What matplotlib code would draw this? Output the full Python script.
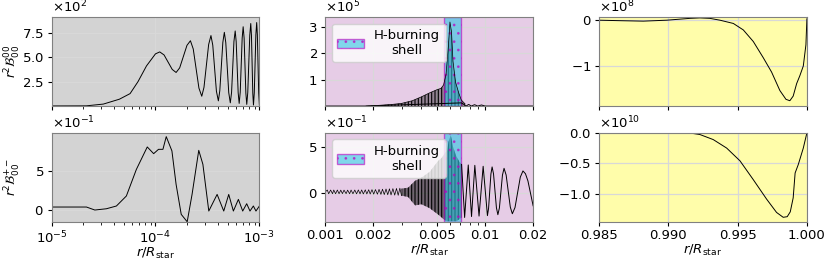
import numpy as np
import matplotlib
matplotlib.use("Agg")
import matplotlib.pyplot as plt
from matplotlib.ticker import FixedLocator, FixedFormatter, NullFormatter, ScalarFormatter

# ---- core region (log r from 1e-5 to 1e-3) ----
core_r = [1.0e-5, 2.16e-5, 3.15e-5, 4.5e-5, 5.7e-5, 6.8e-5, 8.2e-5, 1.0e-4, 1.1e-4,
          1.21e-4, 1.45e-4, 1.58e-4, 1.71e-4, 2.01e-4, 2.17e-4, 2.31e-4, 2.62e-4,
          2.79e-4, 2.93e-4, 3.25e-4, 3.42e-4, 3.56e-4, 3.86e-4, 4.03e-4, 4.16e-4,
          4.45e-4, 4.6e-4, 4.75e-4, 5.07e-4, 5.25e-4, 5.40e-4, 5.69e-4, 5.85e-4,
          5.98e-4, 6.25e-4, 6.39e-4, 6.54e-4, 6.83e-4, 6.98e-4, 7.13e-4, 7.41e-4,
          7.56e-4, 7.73e-4, 8.08e-4, 8.26e-4, 8.39e-4, 8.64e-4, 8.77e-4, 8.93e-4,
          9.25e-4, 9.42e-4, 9.56e-4, 9.85e-4, 1.0e-3]
core_b00 = np.array([0.01, 0.02, 0.2, 0.7, 1.27, 2.5, 4.1, 5.33, 5.53, 5.22, 3.74, 3.43,
                     3.9, 6.2, 6.67, 5.83, 1.83, 1.0, 1.91, 6.29, 7.2, 6.22, 1.51, 0.53,
                     1.56, 6.5, 7.53, 6.48, 1.38, 0.33, 1.4, 6.6, 7.67, 6.59, 1.35, 0.27,
                     1.4, 6.95, 8.1, 6.94, 1.32, 0.17, 1.38, 7.22, 8.43, 7.21, 1.32, 0.1,
                     1.34, 7.29, 8.53, 7.29, 1.34, 0.1]) * 1e2

core_r_pm = [1.0e-5, 2.17e-5, 2.61e-5, 3.37e-5, 4.21e-5, 5.25e-5, 6.55e-5, 8.34e-5,
             9.61e-5, 1.07e-4, 1.18e-4, 1.27e-4, 1.44e-4, 1.58e-4, 1.77e-4, 2.02e-4,
             2.25e-4, 2.61e-4, 2.86e-4, 3.26e-4, 3.92e-4, 4.54e-4, 5.07e-4, 5.62e-4,
             6.28e-4, 6.91e-4, 7.55e-4, 8.12e-4, 8.75e-4, 9.27e-4, 1.0e-3]
core_bpm = np.array([0.43, 0.43, 0.05, 0.21, 0.56, 1.83, 5.2, 8.05, 7.2, 7.75, 7.75, 9.36,
                     7.55, 3.3, -0.5, -1.44, 2.03, 7.62, 5.85, -0.08, 2.03, -0.08, 2.03,
                     -0.08, 1.4, -0.08, 0.85, -0.08, 0.56, -0.08, 0.56]) * 1e-1

# ---- shell region (log r from 1e-3 to 2e-2) ----
shell_lo, shell_hi = 0.0055, 0.0071

shell_b00_x = [0.001, 0.0018, 0.0071, 0.0073, 0.0076, 0.0079, 0.0082, 0.0086, 0.0090,
               0.0095, 0.0100, 0.0200]
shell_b00_y = np.array([0.0, 0.0, 0.12, 0.08, 0.0, 0.06, 0.0, 0.05, 0.0, 0.04, 0.0,
                        0.0]) * 1e5
shell_b00_env_x = [0.0018, 0.0022, 0.0026, 0.0030, 0.0035, 0.0040, 0.0045, 0.0050,
                   0.0053, 0.0055, 0.0057, 0.0059, 0.00603, 0.00617, 0.0063, 0.00654,
                   0.00686, 0.0071, 0.0075]
shell_b00_env = np.array([0.0, 0.03, 0.06, 0.1, 0.2, 0.35, 0.5, 0.62, 0.67, 0.8, 1.2,
                          2.3, 3.19, 2.8, 1.7, 0.9, 0.48, 0.23, 0.08]) * 1e5

shell_wig_x = [0.00100, 0.00103, 0.00105, 0.00108, 0.00111, 0.00113, 0.00116, 0.00119,
               0.00122, 0.00125, 0.00128, 0.00131, 0.00135, 0.00138, 0.00142, 0.00145,
               0.00149, 0.00153, 0.00157, 0.00161, 0.00165, 0.00169, 0.00173, 0.00178,
               0.00182, 0.00187, 0.00191, 0.00196, 0.00201, 0.00206, 0.00212, 0.00217,
               0.00223, 0.00228, 0.00234, 0.00240, 0.00246, 0.00252, 0.00258, 0.00265,
               0.00272, 0.00279, 0.00286, 0.00293, 0.00300]
shell_wig_y = np.array([0.15, 0.35, -0.05, 0.35, -0.05, 0.35, -0.05, 0.35, -0.05, 0.34,
                        -0.04, 0.34, -0.04, 0.34, -0.05, 0.35, -0.05, 0.35, -0.06, 0.36,
                        -0.06, 0.36, -0.07, 0.37, -0.07, 0.38, -0.08, 0.39, -0.09, 0.40,
                        -0.1, 0.42, -0.12, 0.44, -0.14, 0.46, -0.16, 0.48, -0.18, 0.5,
                        -0.2, 0.52, -0.22, 0.55, -0.25]) * 1e-1
shell_pm_env_x = [0.0030, 0.0033, 0.00365, 0.0040, 0.0045, 0.0051, 0.00535, 0.0056,
                  0.0058, 0.0059, 0.0061, 0.0063, 0.0066, 0.0069, 0.00713]
shell_pm_env_hi = np.array([0.5, 0.6, 1.35, 1.68, 2.3, 3.5, 3.8, 4.3, 4.6, 5.5, 6.26,
                            5.0, 4.0, 3.4, 3.1]) * 1e-1
shell_pm_env_lo = np.array([-0.25, -0.4, -1.3, -1.18, -1.6, -2.3, -2.6, -2.9, -3.0, -3.0,
                            -3.0, -3.0, -3.0, -2.8, -2.6]) * 1e-1
shell_pm_x = [0.00713, 0.00745, 0.00785, 0.00823, 0.00863, 0.00917, 0.00973, 0.01035,
              0.01052, 0.01088, 0.01107, 0.01130, 0.01178, 0.01203, 0.01230, 0.01285,
              0.01315, 0.01355, 0.01439, 0.01482, 0.01540, 0.01662, 0.01727, 0.01790,
              0.01855, 0.02000]
shell_pm_y = np.array([3.1, -2.6, 3.04, -2.5, 3.0, -2.45, 2.9, -2.4, -1.63, 2.06, 2.83,
                       2.08, -1.55, -2.3, -1.57, 1.95, 2.68, 1.965, -1.485, -2.2, -1.53,
                       1.73, 2.4, 2.1, 1.33, -1.35]) * 1e-1

# ---- surface region (linear r from 0.985 to 1) ----
surf_r = [0.985, 0.9865, 0.98819, 0.98988, 0.99156, 0.99228, 0.9930, 0.99373, 0.99469,
          0.99541, 0.99613, 0.99685, 0.99745, 0.99805, 0.99849, 0.99877, 0.99901,
          0.99926, 0.99949, 0.99974, 0.99993, 1.0]
surf_b00 = np.array([0.0, -0.01, -0.02, 0.0, 0.04, 0.05, 0.04, 0.0, -0.07, -0.21, -0.46,
                     -0.81, -1.12, -1.52, -1.71, -1.74, -1.64, -1.37, -1.2, -0.99, -0.53,
                     0.03]) * 1e8
surf_r_pm = [0.985, 0.9915, 0.99228, 0.99324, 0.99421, 0.99517, 0.99613, 0.99709, 0.99781,
             0.99829, 0.99858, 0.9988, 0.99901, 0.99915, 0.99938, 0.99974, 1.0]
surf_bpm = np.array([0.0, 0.0, -0.027, -0.11, -0.25, -0.46, -0.77, -1.09, -1.31, -1.39,
                     -1.38, -1.3, -1.07, -0.66, -0.52, -0.25, 0.0]) * 1e10

plt.rcParams['font.size'] = 9.5
plt.rcParams['hatch.linewidth'] = 0.8
plt.rcParams['xtick.major.size'] = 3
plt.rcParams['ytick.major.size'] = 3
plt.rcParams['xtick.minor.size'] = 1.8
plt.rcParams['xtick.major.pad'] = 2.5
plt.rcParams['ytick.major.pad'] = 2.5

fig, axes = plt.subplots(2, 3, sharex='col', figsize=(8.31, 2.61), dpi=100)
fig.subplots_adjust(left=0.062, right=0.971, bottom=0.15, top=0.935,
                    wspace=0.317, hspace=0.30)

bg = {0: '#d3d3d3', 1: '#e6cce6', 2: '#fffdaa'}
for row in range(2):
    for col in range(3):
        ax = axes[row, col]
        ax.set_facecolor(bg[col])
        ax.grid(True, color='#d8d8d8', lw=0.9)
        ax.set_axisbelow(True)
        for s in ax.spines.values():
            s.set_color('0.5')
        fmt = ScalarFormatter(useMathText=True)
        fmt.set_powerlimits((0, 0))
        ax.yaxis.set_major_formatter(fmt)

lw = 0.7

# left column
ax = axes[0, 0]
ax.plot(core_r, core_b00, color='k', lw=lw)
ax.set_xscale('log')
ax.set_xlim(1e-5, 1e-3)
ax.set_ylim(0, 910)
ax.set_yticks([250, 500, 750])
ax.set_ylabel(r'$r^2\mathcal{B}^{00}_{00}$', fontsize=9)

ax = axes[1, 0]
ax.plot(core_r_pm, core_bpm, color='k', lw=lw)
ax.set_ylim(-0.145, 0.985)
ax.set_yticks([0, 0.5])
ax.set_ylabel(r'$r^2\mathcal{B}^{+-}_{00}$', fontsize=9)
ax.set_xlabel(r'$r/R_{\rm star}$', labelpad=0)
for ax in axes[:, 0]:
    ax.yaxis.set_label_coords(-0.135, 0.5)

# middle column
ax = axes[0, 1]
ax.fill_between(shell_b00_env_x, 0, shell_b00_env, facecolor='k', alpha=0.35, lw=0)
ax.fill_between(shell_b00_env_x, 0, shell_b00_env, facecolor='none', edgecolor='k',
                hatch='|||||', lw=0)
ax.plot(shell_b00_env_x, shell_b00_env, color='k', lw=0.5)
ax.plot(shell_b00_x, shell_b00_y, color='k', lw=lw)
ax.set_xscale('log')
ax.set_xlim(0.001, 0.02)
ax.set_ylim(0, 3.38e5)
ax.set_yticks([1e5, 2e5, 3e5])

ax = axes[1, 1]
ax.plot(shell_wig_x, shell_wig_y, color='k', lw=0.5)
ax.fill_between(shell_pm_env_x, shell_pm_env_lo, shell_pm_env_hi, facecolor='k',
                alpha=0.5, lw=0)
ax.fill_between(shell_pm_env_x, shell_pm_env_lo, shell_pm_env_hi, facecolor='none',
                edgecolor='k', hatch='|||||', lw=0)
ax.plot(shell_pm_x, shell_pm_y, color='k', lw=lw)
ax.set_ylim(-0.307, 0.65)
ax.set_yticks([0, 0.5])
ax.set_xlabel(r'$r/R_{\rm star}$', labelpad=0)

for ax in axes[:, 1]:
    ax.axvspan(shell_lo, shell_hi, facecolor='#2fc5e3', edgecolor='m', alpha=0.6,
               hatch='..', lw=1, zorder=1.5, label='H-burning\nshell')
    leg = ax.legend(loc='upper left')
    for t in leg.get_texts():
        t.set_multialignment('center')
axes[1, 1].xaxis.set_major_locator(FixedLocator([0.001, 0.002, 0.005, 0.01, 0.02]))
axes[1, 1].xaxis.set_major_formatter(FixedFormatter(['0.001', '0.002', '0.005', '0.01', '0.02']))
axes[1, 1].xaxis.set_minor_formatter(NullFormatter())

# right column
ax = axes[0, 2]
ax.plot(surf_r, surf_b00, color='k', lw=lw)
ax.set_xlim(0.985, 1.0)
ax.set_ylim(-1.855e8, 0.07e8)
ax.set_yticks([-1e8, 0])

ax = axes[1, 2]
ax.plot(surf_r_pm, surf_bpm, color='k', lw=lw)
ax.set_ylim(-1.465e10, 0.002e10)
ax.set_yticks([-1e10, -0.5e10, 0])
ax.set_xticks([0.985, 0.990, 0.995, 1.000])
ax.set_xticklabels(['0.985', '0.990', '0.995', '1.000'])
ax.set_xlabel(r'$r/R_{\rm star}$', labelpad=0)

fig.savefig('out.png', dpi=100)
